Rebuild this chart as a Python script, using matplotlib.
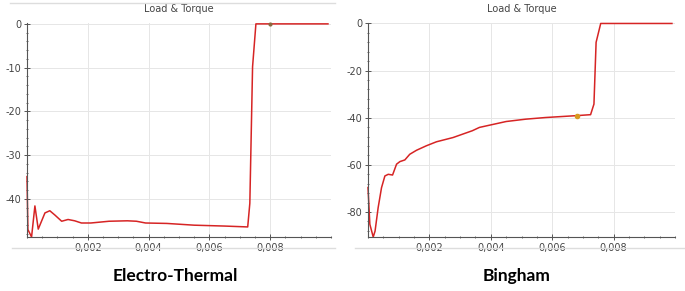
import matplotlib.pyplot as plt
from matplotlib.ticker import FuncFormatter, MultipleLocator
from matplotlib.lines import Line2D

# Electro-Thermal curve (time in s, load)
et_x = [0.0, 0.00003, 0.00015, 0.00026, 0.00037, 0.00059, 0.00075, 0.00092,
        0.00114, 0.00135, 0.00157, 0.00179, 0.0021, 0.0027, 0.0033, 0.0036,
        0.0039, 0.0046, 0.0055, 0.0065, 0.00726, 0.00733, 0.00742, 0.00753,
        0.008, 0.0099]
et_y = [-34.9, -47.0, -48.7, -41.6, -46.9, -43.2, -42.7, -43.7,
        -45.1, -44.7, -45.0, -45.5, -45.5, -45.1, -45.0, -45.1,
        -45.5, -45.6, -46.0, -46.2, -46.4, -41.0, -9.8, 0.0,
        0.0, 0.0]

# Bingham curve
bg_x = [0.0, 0.00006, 0.00017, 0.00023, 0.00033, 0.00044, 0.00055, 0.00066,
        0.0008, 0.00093, 0.00104, 0.0012, 0.00136, 0.00158, 0.0019, 0.00223,
        0.00277, 0.0034, 0.00363, 0.0045, 0.00514, 0.00579, 0.0068, 0.00725,
        0.00736, 0.00743, 0.00758, 0.0099]
bg_y = [-69.6, -85.2, -90.6, -88.1, -78.2, -69.7, -64.7, -64.0,
        -64.3, -59.7, -58.6, -57.9, -55.5, -53.8, -51.9, -50.2,
        -48.4, -45.5, -44.1, -41.6, -40.6, -39.9, -39.1, -38.7,
        -34.2, -8.0, 0.0, 0.0]

x_ticks = [0.002, 0.004, 0.006, 0.008]

plt.rcParams['axes.unicode_minus'] = False
fig = plt.figure(figsize=(6.85, 2.91), dpi=100)

W, H = 685.0, 291.0


def make_axes(x0, x1, y0, y1):
    return fig.add_axes([x0 / W, 1 - y1 / H, (x1 - x0) / W, (y1 - y0) / H])


def style(ax, ymin, ymax, ystep, yminor):
    ax.set_xlim(0, 0.01)
    ax.set_ylim(ymin, ymax)
    ax.set_xticks(x_ticks)
    ax.xaxis.set_minor_locator(MultipleLocator(0.0005))
    ax.yaxis.set_major_locator(MultipleLocator(ystep))
    ax.yaxis.set_minor_locator(MultipleLocator(yminor))
    ax.xaxis.set_major_formatter(FuncFormatter(lambda v, p: f'{v:.3f}'.replace('.', ',')))
    ax.yaxis.set_major_formatter(FuncFormatter(lambda v, p: f'{v:.0f}'))
    for s in ['top', 'right']:
        ax.spines[s].set_visible(False)
    for s in ['left', 'bottom']:
        ax.spines[s].set_color('#555555')
        ax.spines[s].set_linewidth(0.8)
    ax.tick_params(which='major', direction='inout', length=4, width=0.7,
                   colors='#555555', labelsize=7, labelcolor='#444444', pad=2)
    ax.tick_params(which='minor', direction='inout', length=2, width=0.6, colors='#555555')
    ax.grid(True, which='major', color='#e6e6e6', linewidth=0.7)
    ax.set_axisbelow(True)
    ax.set_title('Load & Torque', fontsize=7, color='#444444', pad=8)


ax1 = make_axes(27, 331, 23, 237)
ax1.plot(et_x, et_y, color='#d62424', linewidth=1.1, clip_on=False)
ax1.plot([0.008], [0.0], marker='o', markersize=2, color='#8a6a40', clip_on=False)
style(ax1, -48.7, 0.2, 10, 2)

ax2 = make_axes(368, 675, 23, 237)
ax2.plot(bg_x, bg_y, color='#d62424', linewidth=1.1, clip_on=False)
ax2.plot([0.0068], [-39.1], marker='o', markersize=3, color='#d89a20', clip_on=False)
style(ax2, -90.6, 0.2, 20, 4)

# separator lines
fig.add_artist(Line2D([10 / W, 335 / W], [1 - 3 / H, 1 - 3 / H], color='#dddddd', linewidth=1))
fig.add_artist(Line2D([12 / W, 335 / W], [1 - 248 / H, 1 - 248 / H], color='#dddddd', linewidth=1))
fig.add_artist(Line2D([355 / W, 685 / W], [1 - 248 / H, 1 - 248 / H], color='#dddddd', linewidth=1))

fig.text(175 / W, 1 - 276 / H, 'Electro-Thermal', ha='center', va='center',
         fontsize=12.5, fontweight='bold', family='Lato')
fig.text(517 / W, 1 - 276 / H, 'Bingham', ha='center', va='center',
         fontsize=12.5, fontweight='bold', family='Lato')

fig.savefig('out.png', dpi=100)
